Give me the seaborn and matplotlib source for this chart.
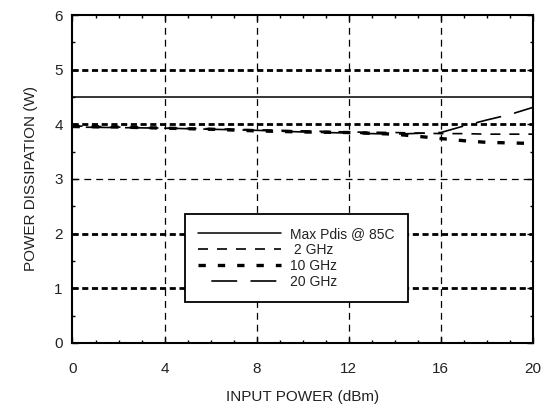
import matplotlib
matplotlib.use("Agg")
import matplotlib.pyplot as plt
import seaborn as sns
import numpy as np
import pandas as pd
from matplotlib.ticker import MultipleLocator

# Input power sweep (dBm) and measured dissipation (W)
pin = [0, 2, 4, 6, 8, 10, 12, 14, 16, 17, 18, 19, 20]
pdis_max = [4.5] * len(pin)
pdis_2ghz = [3.97, 3.95, 3.93, 3.92, 3.90, 3.88, 3.86, 3.85, 3.83, 3.83, 3.82, 3.82, 3.82]
pdis_10ghz = [3.96, 3.95, 3.93, 3.91, 3.88, 3.86, 3.85, 3.82, 3.74, 3.70, 3.67, 3.66, 3.65]
pdis_20ghz = [3.95, 3.94, 3.93, 3.91, 3.89, 3.86, 3.84, 3.82, 3.85, 3.97, 4.08, 4.18, 4.31]

series_names = ["Max Pdis @ 85C", " 2 GHz", "10 GHz", "20 GHz"]
x_ticks = [0, 4, 8, 12, 16, 20]
y_ticks = [0, 1, 2, 3, 4, 5, 6]

sns.set_theme(style="white")
plt.rcParams["font.family"] = ["Liberation Sans", "DejaVu Sans"]

fig = plt.figure(figsize=(5.43, 4.11), dpi=100)
ax = fig.add_axes([0.1335, 0.1655, 0.848, 0.798])

# Grid drawn by hand to get the mixed weights
for gx in [4, 8, 12, 16]:
    ax.axvline(gx, color="black", lw=0.9, dashes=(5.5, 4), zorder=1)
for gy in [1, 2, 4, 5]:
    ax.axhline(gy, color="black", lw=2.0, dashes=(2.2, 1.3), zorder=1)
ax.axhline(3, color="black", lw=0.9, dashes=(5.5, 4), zorder=1)

styles = [
    dict(lw=1.1, linestyle="-"),
    dict(lw=1.2, dashes=(6, 5.4)),
    dict(lw=2.4, dashes=(2.2, 3.6)),
    dict(lw=1.2, linestyle=(15.5, (15.5, 8))),
]
values = [pdis_max, pdis_2ghz, pdis_10ghz, pdis_20ghz]
for name, vals, st in zip(series_names, values, styles):
    df = pd.DataFrame({"pin": pin, "pdis": vals})
    sns.lineplot(data=df, x="pin", y="pdis", ax=ax, color="black",
                 label=name, zorder=3, **st)

ax.set_xlim(0, 20)
ax.set_ylim(0, 6)
ax.set_xticks(x_ticks)
ax.set_yticks(y_ticks)
ax.xaxis.set_minor_locator(MultipleLocator(1))
ax.yaxis.set_minor_locator(MultipleLocator(0.5))
ax.tick_params(which="both", direction="in", top=True, right=True,
               bottom=True, left=True, color="black")
ax.tick_params(which="major", length=4, width=1, labelsize=11,
               labelcolor="#222222")
ax.tick_params(axis="x", which="major", pad=14)
ax.tick_params(axis="y", which="major", pad=7)
ax.tick_params(which="minor", length=2.5, width=1)
for sp in ax.spines.values():
    sp.set_color("black")
    sp.set_linewidth(1.5)

ax.set_xlabel("INPUT POWER (dBm)", fontsize=11, color="#222222", labelpad=10)
ax.set_ylabel("POWER DISSIPATION (W)", fontsize=11, color="#222222", labelpad=12)

leg = ax.legend(loc="lower left", bbox_to_anchor=(0.244, 0.125),
                frameon=True, fancybox=False, edgecolor="black",
                fontsize=10, handlelength=6.0, handletextpad=0.65,
                labelspacing=0.14, borderpad=0.95, borderaxespad=0)
leg.get_frame().set_linewidth(1.3)
leg.get_frame().set_alpha(1)
for t in leg.get_texts():
    t.set_color("#222222")

fig.savefig("out.png", dpi=100)
